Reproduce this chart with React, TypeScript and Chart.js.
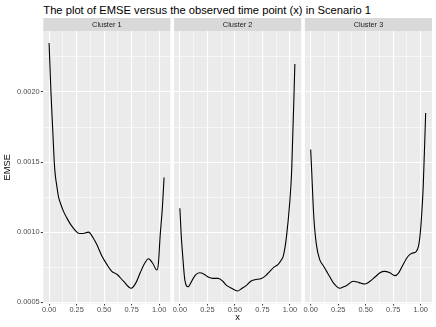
import React, { useEffect, useRef } from "react";
import { Chart, registerables } from "chart.js";

Chart.register(...registerables);

// ---- data ----
const TITLE = "The plot of EMSE versus the observed time point (x) in Scenario 1";
const CLUSTERS = ["Cluster 1", "Cluster 2", "Cluster 3"];
const X_TITLE = "x";
const Y_TITLE = "EMSE";

const X_MAJOR = [0, 0.25, 0.5, 0.75, 1.0];
const X_MAJOR_LABELS = ["0.00", "0.25", "0.50", "0.75", "1.00"];
const X_MINOR = [0.125, 0.375, 0.625, 0.875];
const Y_MAJOR = [0.0005, 0.001, 0.0015, 0.002];
const Y_MAJOR_LABELS = ["0.0005", "0.0010", "0.0015", "0.0020"];
const Y_MINOR = [0.00075, 0.00125, 0.00175, 0.00225];

const X1 = [0, 0.017, 0.035, 0.047, 0.056, 0.072, 0.086, 0.102, 0.13, 0.162, 0.2, 0.253, 0.275, 0.31, 0.358, 0.4, 0.435, 0.48, 0.525, 0.57, 0.616, 0.676, 0.746, 0.79, 0.828, 0.87, 0.903, 0.94, 0.979, 0.994, 1.009, 1.03, 1.045];
const Y1 = [0.00235, 0.002, 0.0017, 0.0015, 0.00141, 0.00132, 0.00125, 0.00121, 0.00115, 0.0011, 0.00105, 0.001, 0.00099, 0.00099, 0.001, 0.00096, 0.00091, 0.00083, 0.00077, 0.00072, 0.0007, 0.00065, 0.0006, 0.00064, 0.00071, 0.00078, 0.00081, 0.00078, 0.00073, 0.00078, 0.00097, 0.00118, 0.00139];

const X2 = [0, 0.012, 0.024, 0.045, 0.075, 0.1, 0.121, 0.15, 0.181, 0.22, 0.257, 0.3, 0.348, 0.39, 0.424, 0.47, 0.523, 0.565, 0.605, 0.645, 0.681, 0.741, 0.78, 0.817, 0.855, 0.893, 0.92, 0.94, 0.969, 0.998, 1.016, 1.045];
const Y2 = [0.00117, 0.00098, 0.00085, 0.00066, 0.00061, 0.00064, 0.00067, 0.0007, 0.00071, 0.0007, 0.00068, 0.00067, 0.00067, 0.00065, 0.00062, 0.0006, 0.00058, 0.0006, 0.00062, 0.00065, 0.00066, 0.00067, 0.00069, 0.00072, 0.00075, 0.00077, 0.0008, 0.00083, 0.00097, 0.00121, 0.00144, 0.0022];

const X3 = [0, 0.009, 0.02, 0.03, 0.054, 0.084, 0.115, 0.145, 0.175, 0.205, 0.24, 0.266, 0.3, 0.327, 0.388, 0.44, 0.494, 0.54, 0.585, 0.63, 0.669, 0.72, 0.765, 0.8, 0.827, 0.887, 0.92, 0.957, 0.98, 0.993, 1.01, 1.023, 1.045];
const Y3 = [0.00159, 0.00144, 0.00124, 0.00109, 0.0009, 0.0008, 0.00076, 0.00072, 0.00068, 0.00064, 0.00061, 0.0006, 0.00061, 0.00062, 0.00065, 0.00064, 0.00063, 0.00065, 0.00068, 0.00071, 0.00072, 0.00071, 0.00069, 0.00071, 0.00075, 0.00083, 0.00085, 0.00086, 0.0009, 0.00097, 0.00114, 0.00133, 0.00185];

const SERIES_X = [X1, X2, X3];
const SERIES_Y = [Y1, Y2, Y3];

// ---- layout ----
const FONT = "'Liberation Sans', Arial, Helvetica, sans-serif";
const X_MIN = -0.0525;
const X_MAX = 1.1025;
const Y_MIN = 0.000491;
const Y_MAX = 0.002435;

// canvas left, width, padLeft, padRight, yAxisWidth
const PANELS = [
  { left: 0, width: 181, padL: 0, padR: 10.6, yw: 43.3 },
  { left: 164, width: 148, padL: 10.1, padR: 10.8, yw: 0 },
  { left: 295, width: 141, padL: 9.9, padR: 4, yw: 0 },
];
const CANVAS_TOP = 18;
const CANVAS_H = 309;
const STRIP_H = 13;
const XAXIS_H = 23.5;

const near = (arr: number[], v: number) => arr.findIndex((m) => Math.abs(m - v) < 1e-9);

const panelPlugin = {
  id: "panelBg",
  beforeDraw(chart: any, _args: any, opts: any) {
    const { ctx, chartArea } = chart;
    const { left, top, right, bottom } = chartArea;
    ctx.save();
    ctx.fillStyle = "#ebebeb";
    ctx.fillRect(left, top, right - left, bottom - top);
    ctx.fillStyle = "#d9d9d9";
    ctx.fillRect(left, top - STRIP_H, right - left, STRIP_H);
    ctx.fillStyle = "#1a1a1a";
    ctx.font = `7.4px ${FONT}`;
    ctx.textAlign = "center";
    ctx.textBaseline = "middle";
    ctx.fillText(opts.label || "", (left + right) / 2, top - STRIP_H / 2);
    ctx.restore();
  },
};

function Panel({ idx }: { idx: number }) {
  const ref = useRef<HTMLCanvasElement | null>(null);
  const p = PANELS[idx];
  useEffect(() => {
    if (!ref.current) return;
    const data = SERIES_X[idx].map((x, i) => ({ x, y: SERIES_Y[idx][i] }));
    const xTicks = [...X_MAJOR, ...X_MINOR].sort((a, b) => a - b);
    const yTicks = [...Y_MAJOR, ...Y_MINOR].sort((a, b) => a - b);
    const chart = new Chart(ref.current, {
      type: "line",
      data: {
        datasets: [
          {
            data,
            borderColor: "#000000",
            borderWidth: 1.1,
            pointRadius: 0,
            fill: false,
            cubicInterpolationMode: "monotone",
          },
        ],
      },
      plugins: [panelPlugin],
      options: {
        animation: false,
        responsive: false,
        events: [],
        layout: { padding: { left: p.padL, right: p.padR, top: STRIP_H, bottom: 0 } },
        plugins: {
          legend: { display: false },
          tooltip: { enabled: false },
          title: { display: false },
          panelBg: { label: CLUSTERS[idx] },
        } as any,
        scales: {
          x: {
            type: "linear",
            min: X_MIN,
            max: X_MAX,
            afterBuildTicks: (s: any) => {
              s.ticks = xTicks.map((v) => ({ value: v }));
            },
            afterFit: (s: any) => {
              s.height = XAXIS_H;
            },
            border: { display: false },
            grid: {
              color: "#ffffff",
              lineWidth: (c: any) => (c.tick && near(X_MAJOR, c.tick.value) >= 0 ? 1.1 : 0.55),
              tickColor: (c: any) => (c.tick && near(X_MAJOR, c.tick.value) >= 0 ? "#333333" : "rgba(0,0,0,0)"),
              tickWidth: 1,
              tickLength: 2,
            },
            ticks: {
              autoSkip: false,
              maxRotation: 0,
              minRotation: 0,
              padding: 0.3,
              color: "#4d4d4d",
              font: { size: 7.4, family: FONT },
              callback: (v: any) => {
                const i = near(X_MAJOR, Number(v));
                return i >= 0 ? X_MAJOR_LABELS[i] : "";
              },
            },
            title: {
              display: idx === 1,
              text: X_TITLE,
              color: "#000000",
              font: { size: 9.3, family: FONT },
              padding: { top: 0, bottom: 4 },
            },
          },
          y: {
            type: "linear",
            min: Y_MIN,
            max: Y_MAX,
            afterBuildTicks: (s: any) => {
              s.ticks = yTicks.map((v) => ({ value: v }));
            },
            afterFit: (s: any) => {
              s.width = p.yw;
            },
            border: { display: false },
            grid: {
              color: "#ffffff",
              lineWidth: (c: any) => (c.tick && near(Y_MAJOR, c.tick.value) >= 0 ? 1.1 : 0.55),
              tickColor: (c: any) => (c.tick && near(Y_MAJOR, c.tick.value) >= 0 ? "#333333" : "rgba(0,0,0,0)"),
              tickWidth: 1,
              tickLength: 2.5,
              drawTicks: idx === 0,
            },
            ticks: {
              display: idx === 0,
              autoSkip: false,
              padding: 1.2,
              color: "#4d4d4d",
              font: { size: 7.4, family: FONT },
              callback: (v: any) => {
                const i = near(Y_MAJOR, Number(v));
                return i >= 0 ? Y_MAJOR_LABELS[i] : "";
              },
            },
            title: {
              display: idx === 0,
              text: Y_TITLE,
              color: "#000000",
              font: { size: 9.3, family: FONT },
              padding: { top: 1.4, bottom: 0 },
            },
          },
        },
      } as any,
    });
    return () => chart.destroy();
  }, [idx]);
  return (
    <canvas
      ref={ref}
      width={p.width}
      height={CANVAS_H}
      style={{ position: "absolute", left: p.left, top: CANVAS_TOP, width: p.width, height: CANVAS_H }}
    />
  );
}

export default function App() {
  return (
    <div style={{ position: "absolute", left: 0, top: 0, width: 436, height: 327, background: "#ffffff", overflow: "hidden" }}>
      <div
        style={{
          position: "absolute",
          left: 43.3,
          top: 4.5,
          fontFamily: FONT,
          fontSize: 11.2,
          lineHeight: "11.2px",
          color: "#000000",
          whiteSpace: "nowrap",
        }}
      >
        {TITLE}
      </div>
      {[0, 1, 2].map((i) => (
        <Panel key={i} idx={i} />
      ))}
    </div>
  );
}
